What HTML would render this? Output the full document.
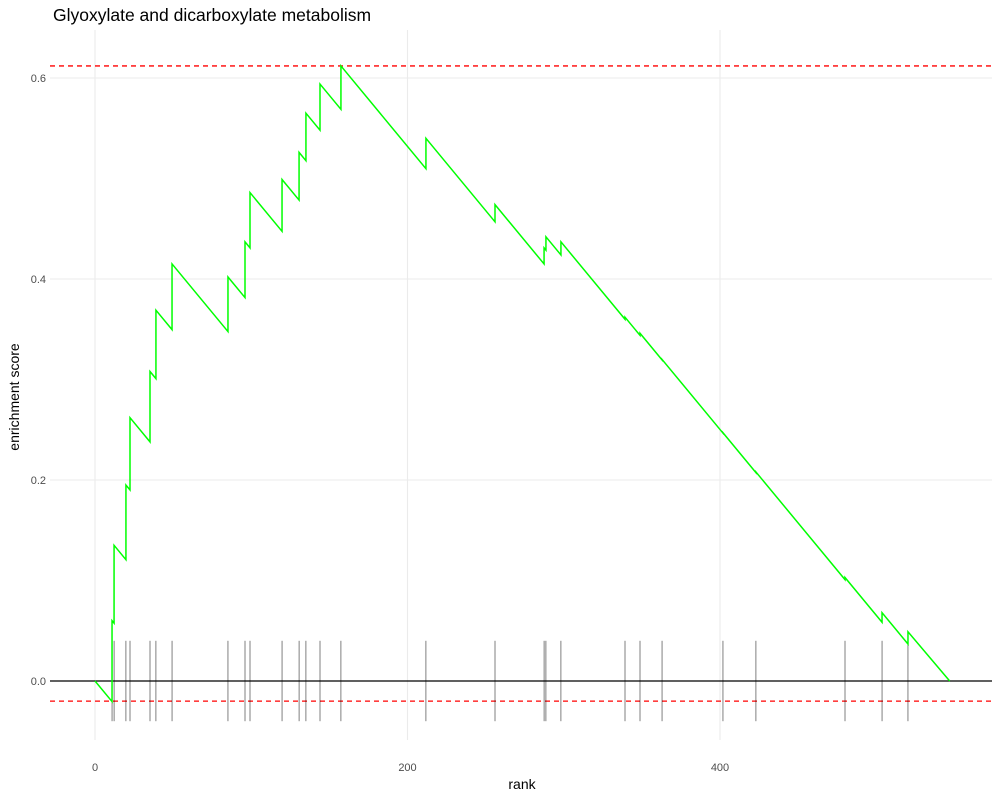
<!DOCTYPE html>
<html><head><meta charset="utf-8"><style>
body{margin:0;background:#fff;font-family:"Liberation Sans","DejaVu Sans",sans-serif}
</style></head><body>
<svg id="chart" width="1000" height="800" xmlns="http://www.w3.org/2000/svg">
<text x="53" y="21" font-size="17.5" fill="#000">Glyoxylate and dicarboxylate metabolism</text>
<text x="522" y="789" font-size="14" text-anchor="middle">rank</text>
<text transform="translate(19,397) rotate(-90)" font-size="14" text-anchor="middle">enrichment score</text>
<g id="grid"></g><g id="marks"></g>
</svg>
<script>
const hitRanks=[10.9,12.2,19.8,22.4,35.2,39,49.3,85.1,96,99.2,119.7,130.6,135,144,157.4,211.8,256,287.4,288.6,298.2,339.2,348.8,362.9,401.9,423,480,503.7,520.3];
const esPeaks=[0.06,0.135,0.195,0.262,0.308,0.369,0.415,0.402,0.437,0.486,0.499,0.526,0.565,0.594,0.612,0.540,0.474,0.431,0.442,0.437,0.362,0.346,0.320,0.247,0.208,0.103,0.068,0.049];
const missPenalty=0.00188;
const endRank=547;
const maxES=0.612, minLine=-0.02;
const xTicks=[0,200,400];
const yTicks=[0,0.2,0.4,0.6];
const yTickLabels=["0.0","0.2","0.4","0.6"];
const X=v=>95+v*1.5625, Y=v=>681-v*1005;
const NS="http://www.w3.org/2000/svg";
const grid=document.getElementById('grid'), marks=document.getElementById('marks');
function mk(p,tag,a){const e=document.createElementNS(NS,tag);for(const k in a)e.setAttribute(k,a[k]);p.appendChild(e);return e;}
xTicks.forEach(v=>{const l=mk(grid,'line',{x1:X(v),x2:X(v),y1:30,y2:740,stroke:'#ebebeb','stroke-width':1.1});


const t=mk(grid,'text',{x:X(v),y:771,'font-size':11,fill:'#4d4d4d','text-anchor':'middle'});t.textContent=v;

});
yTicks.forEach((v,i)=>{const l=mk(grid,'line',{x1:50,x2:992,y1:Y(v),y2:Y(v),stroke:'#ebebeb','stroke-width':1.1});


const t=mk(grid,'text',{x:46,y:Y(v)+4,'font-size':11,fill:'#4d4d4d','text-anchor':'end'});t.textContent=yTickLabels[i];

});
const z=mk(marks,'line',{x1:50,x2:992,y1:Y(0),y2:Y(0),stroke:'#000','stroke-width':1.2});


[maxES,minLine].forEach(v=>{const l=mk(marks,'line',{x1:50,x2:992,y1:Y(v),y2:Y(v),stroke:'#ff0000','stroke-width':1.3,'stroke-dasharray':'5,4'});

});
hitRanks.forEach(r=>{const l=mk(marks,'line',{x1:X(r),x2:X(r),y1:Y(0.04),y2:Y(-0.04),stroke:'#000','stroke-width':0.5});

});
let pts=[[X(0),Y(0)]],pr=0,pv=0;
hitRanks.forEach((r,i)=>{const pre=pv-missPenalty*(r-pr);pts.push([X(r),Y(pre)]);pts.push([X(r),Y(esPeaks[i])]);pr=r;pv=esPeaks[i];});
pts.push([X(endRank),Y(0)]);
const path=mk(marks,'polyline',{points:pts.map(p=>p.join(',')).join(' '),fill:'none',stroke:'#00ff00','stroke-width':1.5});


</script>
</body></html>
